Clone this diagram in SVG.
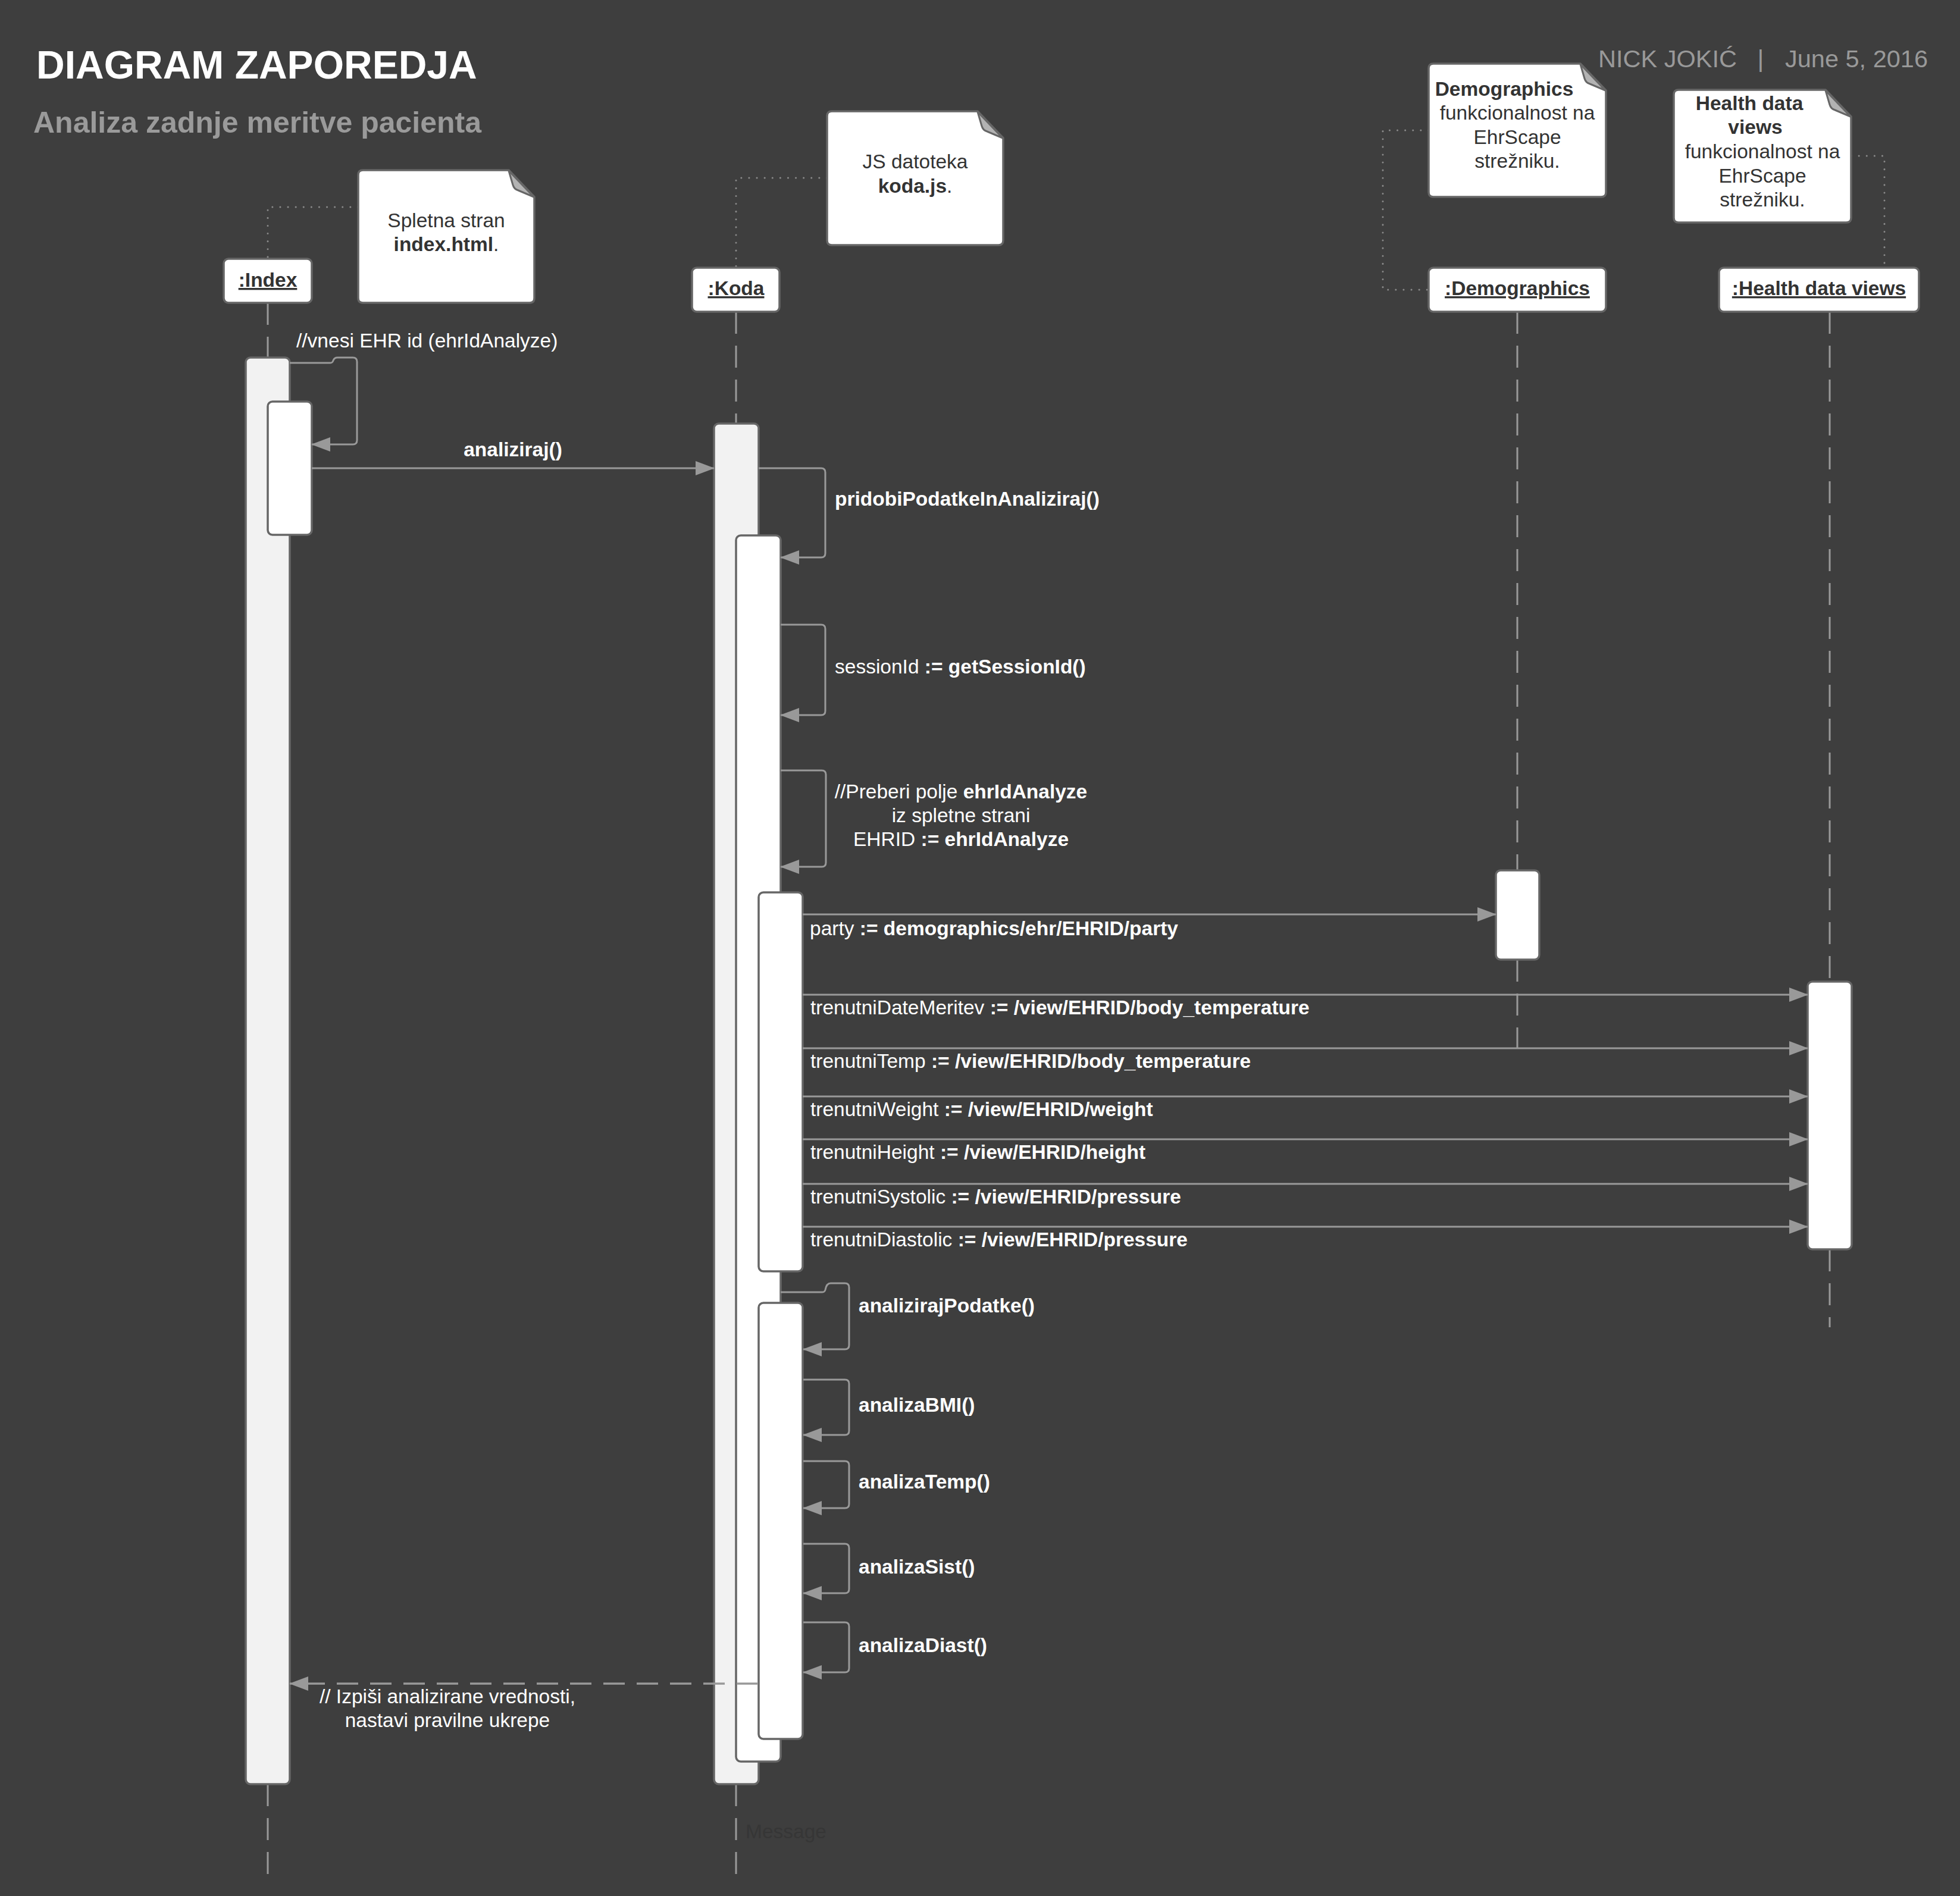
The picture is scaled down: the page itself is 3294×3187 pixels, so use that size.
<svg xmlns="http://www.w3.org/2000/svg" width="3294" height="3187" viewBox="0 0 3294 3187">
<defs>
<style>
text{font-family:"Liberation Sans",Arial,sans-serif;}
.lbl{fill:#ffffff;font-size:33.5px;}
.b{font-weight:bold;}
.dk{fill:#333333;font-size:33.5px;}
.hdr{fill:#333333;font-size:33.5px;font-weight:bold;text-decoration:underline;text-anchor:middle;}
.box{fill:#ffffff;stroke:#666666;stroke-width:3.5;}
.act{fill:#ffffff;stroke:#666666;stroke-width:3.5;}
.acto{fill:#f2f2f2;stroke:#666666;stroke-width:3.5;}
.life{stroke:#999999;stroke-width:3;stroke-dasharray:37 20;fill:none;}
.dot{stroke:#8a8a8a;stroke-width:3;stroke-dasharray:0.1 13;stroke-linecap:round;fill:none;}
.msg{stroke:#999999;stroke-width:3;fill:none;marker-end:url(#arr);}
.ret{stroke:#999999;stroke-width:3.5;fill:none;stroke-dasharray:36 20;marker-end:url(#arr);}
.note{fill:#ffffff;stroke:#666666;stroke-width:3.5;stroke-linejoin:round;}
.fold{fill:#b3b3b3;stroke:#666666;stroke-width:3;stroke-linejoin:round;}
.mid{text-anchor:middle;}
.meta{font-size:41.5px;fill:#999999;}
</style>
<marker id="arr" markerUnits="userSpaceOnUse" markerWidth="32" markerHeight="24" viewBox="0 0 32 24" refX="31" refY="12" orient="auto">
<path d="M0,0 L32,12 L0,24 Z" fill="#999999"/>
</marker>
</defs>
<rect x="0" y="0" width="3294" height="3187" fill="#3e3e3e"/>

<g id="title">
<text x="61" y="132" style="font-size:66px;font-weight:bold;fill:#ffffff;">DIAGRAM ZAPOREDJA</text>
<text x="56" y="223" style="font-size:50px;font-weight:bold;fill:#9a9a9a;">Analiza zadnje meritve pacienta</text>
<text class="meta" x="2686" y="113">NICK JOKIĆ</text>
<text class="meta" x="2959" y="113" text-anchor="middle">|</text>
<text class="meta" x="3240" y="113" text-anchor="end">June 5, 2016</text>
</g>

<g id="note-connectors">
<path class="dot" d="M602,348 L450,348 L450,435"/>
<path class="dot" d="M1390,299 L1237,299 L1237,450"/>
<path class="dot" d="M2401,219 L2324,219 L2324,487 L2401,487"/>
<path class="dot" d="M3111,262 L3167,262 L3167,450"/>
</g>

<g id="note-index">
<path class="note" d="M610,286 L855,286 L898,331 L898,501 Q898,509 890,509 L610,509 Q602,509 602,501 L602,294 Q602,286 610,286 Z"/>
<path class="fold" d="M855,287 L862,311 Q864,318 871,320 L897,331 Z"/>
<text class="dk mid" x="750" y="382">Spletna stran</text>
<text class="dk mid" x="750" y="422"><tspan class="b">index.html</tspan>.</text>
</g>

<g id="note-koda">
<path class="note" d="M1398,187 L1643,187 L1686,232 L1686,404 Q1686,412 1678,412 L1398,412 Q1390,412 1390,404 L1390,195 Q1390,187 1398,187 Z"/>
<path class="fold" d="M1643,188 L1650,212 Q1652,219 1659,221 L1685,232 Z"/>
<text class="dk mid" x="1538" y="283">JS datoteka</text>
<text class="dk mid" x="1538" y="324"><tspan class="b">koda.js</tspan>.</text>
</g>

<g id="note-demographics">
<path class="note" d="M2409,107 L2656,107 L2699,152 L2699,323 Q2699,331 2691,331 L2409,331 Q2401,331 2401,323 L2401,115 Q2401,107 2409,107 Z"/>
<path class="fold" d="M2656,108 L2663,132 Q2665,139 2672,141 L2698,152 Z"/>
<text class="dk mid b" x="2528" y="161">Demographics</text>
<text class="dk mid" x="2550" y="201">funkcionalnost na</text>
<text class="dk mid" x="2550" y="242">EhrScape</text>
<text class="dk mid" x="2550" y="282">strežniku.</text>
</g>

<g id="note-health">
<path class="note" d="M2821,151 L3068,151 L3111,196 L3111,366 Q3111,374 3103,374 L2821,374 Q2813,374 2813,366 L2813,159 Q2813,151 2821,151 Z"/>
<path class="fold" d="M3068,152 L3075,176 Q3077,183 3084,185 L3110,196 Z"/>
<text class="dk mid b" x="2940" y="185">Health data</text>
<text class="dk mid b" x="2950" y="225">views</text>
<text class="dk mid" x="2962" y="266">funkcionalnost na</text>
<text class="dk mid" x="2962" y="307">EhrScape</text>
<text class="dk mid" x="2962" y="347">strežniku.</text>
</g>

<g id="lifeline-index">
<line class="life" x1="450" y1="509" x2="450" y2="601"/>
<line class="life" x1="450" y1="2999" x2="450" y2="3170"/>
<rect class="box" x="376" y="435" width="148" height="74" rx="8"/>
<text class="hdr" x="450" y="482">:Index</text>
<rect class="acto" x="413" y="601" width="74" height="2398" rx="8"/>
<rect class="act" x="450" y="675" width="74" height="224" rx="8"/>
</g>

<g id="lifeline-koda">
<line class="life" x1="1237" y1="524" x2="1237" y2="712"/>
<line class="life" x1="1237" y1="2999" x2="1237" y2="3170"/>
<rect class="box" x="1163" y="450" width="147" height="74" rx="8"/>
<text class="hdr" x="1237" y="496">:Koda</text>
<rect class="acto" x="1200" y="712" width="75" height="2287" rx="8"/>
<rect class="act" x="1237" y="900" width="75" height="2061" rx="8"/>
<rect class="act" x="1275" y="1500" width="74" height="637" rx="8"/>
<rect class="act" x="1275" y="2190" width="74" height="733" rx="8"/>
</g>

<g id="lifeline-demographics">
<line class="life" x1="2550" y1="524" x2="2550" y2="1463"/>
<line class="life" x1="2550" y1="1613" x2="2550" y2="1762"/>
<rect class="box" x="2401" y="450" width="298" height="74" rx="8"/>
<text class="hdr" x="2550" y="496">:Demographics</text>
<rect class="act" x="2514" y="1463" width="73" height="150" rx="8"/>
</g>

<g id="lifeline-health">
<line class="life" x1="3075" y1="524" x2="3075" y2="1650"/>
<line class="life" x1="3075" y1="2100" x2="3075" y2="2231"/>
<rect class="box" x="2889" y="450" width="336" height="74" rx="8"/>
<text class="hdr" x="3057" y="496">:Health data views</text>
<rect class="act" x="3038" y="1650" width="74" height="450" rx="8"/>
</g>

<g id="connectors">
<path class="msg" d="M487,610 L555,610 Q559,610 560,606 Q562,601 567,601 L593,601 Q600,601 600,608 L600,740 Q600,747 593,747 L524,747"/>
<path class="msg" d="M524,787 L1200,787"/>
<path class="msg" d="M1275,787 L1380,787 Q1387,787 1387,794 L1387,930 Q1387,937 1380,937 L1312,937"/>
<path class="msg" d="M1312,1050 L1380,1050 Q1387,1050 1387,1057 L1387,1195 Q1387,1202 1380,1202 L1312,1202"/>
<path class="msg" d="M1312,1295 L1381,1295 Q1388,1295 1388,1302 L1388,1450 Q1388,1457 1381,1457 L1312,1457"/>
<path class="msg" d="M1349,1537 L2514,1537"/>
<path class="msg" d="M1349,1672 L3038,1672"/>
<path class="msg" d="M1349,1762 L3038,1762"/>
<path class="msg" d="M1349,1843 L3038,1843"/>
<path class="msg" d="M1349,1915 L3038,1915"/>
<path class="msg" d="M1349,1990 L3038,1990"/>
<path class="msg" d="M1349,2062 L3038,2062"/>
<path class="msg" d="M1312,2172 L1382,2172 Q1386,2172 1387,2168 Q1389,2157 1396,2157 L1420,2157 Q1427,2157 1427,2164 L1427,2261 Q1427,2268 1420,2268 L1350,2268"/>
<path class="msg" d="M1350,2319 L1420,2319 Q1427,2319 1427,2326 L1427,2405 Q1427,2412 1420,2412 L1350,2412"/>
<path class="msg" d="M1350,2456 L1420,2456 Q1427,2456 1427,2463 L1427,2528 Q1427,2535 1420,2535 L1350,2535"/>
<path class="msg" d="M1350,2595 L1420,2595 Q1427,2595 1427,2602 L1427,2671 Q1427,2678 1420,2678 L1350,2678"/>
<path class="msg" d="M1350,2727 L1420,2727 Q1427,2727 1427,2734 L1427,2804 Q1427,2811 1420,2811 L1350,2811"/>
<path class="ret" d="M1274,2830 L487,2830"/>
</g>

<g id="labels">
<text class="lbl" x="498" y="584">//vnesi EHR id (ehrIdAnalyze)</text>
<text class="lbl b mid" x="862" y="767">analiziraj()</text>
<text class="lbl b" x="1403" y="850">pridobiPodatkeInAnaliziraj()</text>
<text class="lbl" x="1403" y="1132">sessionId <tspan class="b">:= getSessionId()</tspan></text>
<text class="lbl mid" x="1615" y="1342">//Preberi polje <tspan class="b">ehrIdAnalyze</tspan></text>
<text class="lbl mid" x="1615" y="1382">iz spletne strani</text>
<text class="lbl mid" x="1615" y="1422">EHRID <tspan class="b">:= ehrIdAnalyze</tspan></text>
<text class="lbl" x="1361" y="1572">party <tspan class="b">:= demographics/ehr/EHRID/party</tspan></text>
<text class="lbl" x="1362" y="1705">trenutniDateMeritev <tspan class="b">:= /view/EHRID/body_temperature</tspan></text>
<text class="lbl" x="1362" y="1795">trenutniTemp <tspan class="b">:= /view/EHRID/body_temperature</tspan></text>
<text class="lbl" x="1362" y="1876">trenutniWeight <tspan class="b">:= /view/EHRID/weight</tspan></text>
<text class="lbl" x="1362" y="1948">trenutniHeight <tspan class="b">:= /view/EHRID/height</tspan></text>
<text class="lbl" x="1362" y="2023">trenutniSystolic <tspan class="b">:= /view/EHRID/pressure</tspan></text>
<text class="lbl" x="1362" y="2095">trenutniDiastolic <tspan class="b">:= /view/EHRID/pressure</tspan></text>
<text class="lbl b" x="1443" y="2206">analizirajPodatke()</text>
<text class="lbl b" x="1443" y="2373">analizaBMI()</text>
<text class="lbl b" x="1443" y="2502">analizaTemp()</text>
<text class="lbl b" x="1443" y="2645">analizaSist()</text>
<text class="lbl b" x="1443" y="2777">analizaDiast()</text>
<text class="lbl mid" x="752" y="2863">// Izpiši analizirane vrednosti,</text>
<text class="lbl mid" x="752" y="2903">nastavi pravilne ukrepe</text>
<text x="1253" y="3090" style="font-size:33.5px;fill:#363636;">Message</text>
</g>
</svg>
